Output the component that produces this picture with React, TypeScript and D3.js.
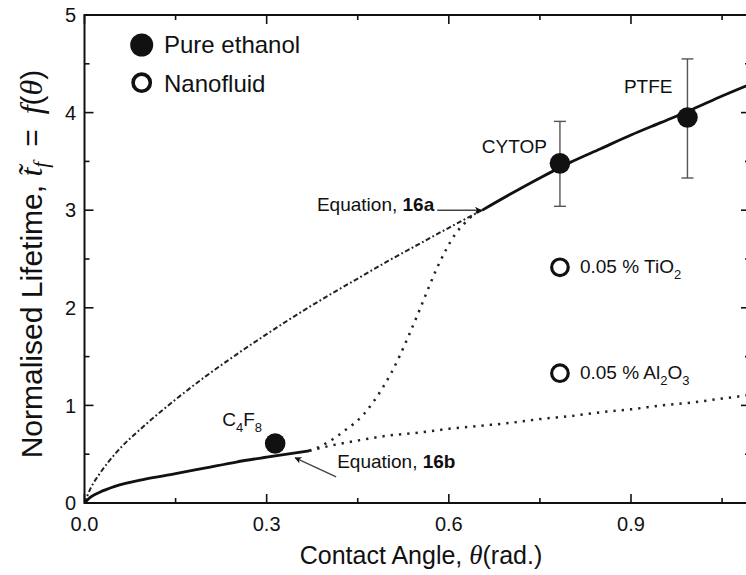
import React from "react";
import * as d3 from "d3";

// Canvas and plot frame
const W = 746;
const H = 575;
const thetaMax = 1.096;
const lifeMax = 5;

// Axis ticks
const xTicksMajor = [0, 0.3, 0.6, 0.9];
const xTicksMinor = [0.15, 0.45, 0.75, 1.05];
const yTicksMajor = [0, 1, 2, 3, 4, 5];
const yTicksMinor = [0.5, 1.5, 2.5, 3.5, 4.5];

// Equation 16b (solid, low contact angles)
const eq16bTheta = [0, 0.01, 0.025, 0.05, 0.1, 0.15, 0.2, 0.25, 0.3, 0.37];
const eq16bLife = [0, 0.06, 0.11, 0.17, 0.245, 0.3, 0.36, 0.42, 0.47, 0.535];

// Equation 16a (solid, high contact angles)
const eq16aTheta = [0.655, 0.7, 0.75, 0.8, 0.85, 0.9, 0.95, 1.0, 1.05, 1.1];
const eq16aLife = [3.0, 3.16, 3.33, 3.49, 3.63, 3.77, 3.9, 4.03, 4.17, 4.3];

// Extension of 16a down to the origin (dash-dot)
const upperTheta = [0, 0.01, 0.025, 0.05, 0.1, 0.15, 0.2, 0.25, 0.3, 0.35, 0.4, 0.45, 0.5, 0.55, 0.6, 0.655];
const upperLife = [0, 0.15, 0.3, 0.5, 0.8, 1.06, 1.3, 1.52, 1.73, 1.93, 2.12, 2.3, 2.48, 2.65, 2.82, 3.0];

// Transition between 16b and 16a (dotted)
const bridgeTheta = [0.37, 0.385, 0.4, 0.415, 0.43, 0.445, 0.46, 0.475, 0.49, 0.505, 0.52, 0.535, 0.55, 0.565, 0.58, 0.595, 0.61, 0.625, 0.64, 0.655];
const bridgeLife = [0.535, 0.57, 0.62, 0.68, 0.75, 0.82, 0.91, 1.03, 1.17, 1.33, 1.52, 1.73, 1.95, 2.18, 2.4, 2.59, 2.75, 2.86, 2.95, 3.0];

// Extension of 16b to high angles (dotted)
const lowerTheta = [0.37, 0.4, 0.45, 0.5, 0.55, 0.6, 0.65, 0.7, 0.75, 0.8, 0.85, 0.9, 0.95, 1.0, 1.05, 1.1];
const lowerLife = [0.535, 0.58, 0.64, 0.69, 0.72, 0.76, 0.79, 0.82, 0.86, 0.89, 0.93, 0.96, 1.0, 1.03, 1.07, 1.11];

// Pure ethanol measurements
const ethanolSurface = ["C4F8", "CYTOP", "PTFE"];
const ethanolTheta = [0.314, 0.783, 0.993];
const ethanolLife = [0.61, 3.48, 3.95];
const ethanolErrLow = [null, 3.04, 3.33];
const ethanolErrHigh = [null, 3.91, 4.55];

// Nanofluid measurements
const nanoTheta = [0.783, 0.783];
const nanoLife = [2.415, 1.33];

const SANS = "'Liberation Sans', Arial, Helvetica, sans-serif";
const SERIF = "'Liberation Serif', 'Times New Roman', serif";
const INK = "#111";

export default function App() {
  const x = d3.scaleLinear().domain([0, thetaMax]).range([84.5, 750]);
  const y = d3.scaleLinear().domain([0, lifeMax]).range([503, 15]);

  const line = d3
    .line<[number, number]>()
    .x((d) => x(d[0]))
    .y((d) => y(d[1]))
    .curve(d3.curveMonotoneX);

  const zip = (a: number[], b: number[]) => a.map((v, i) => [v, b[i]] as [number, number]);

  const left = x(0);
  const right = x(thetaMax);
  const top = y(lifeMax);
  const bottom = y(0);

  const eq16aStart = [eq16aTheta[0], eq16aLife[0]];
  const eq16bEnd = [eq16bTheta[eq16bTheta.length - 1], eq16bLife[eq16bLife.length - 1]];

  return (
    <svg
      width={W}
      height={H}
      viewBox={`0 0 ${W} ${H}`}
      style={{ position: "absolute", left: 0, top: 0, background: "#fff", overflow: "hidden" }}
      fontFamily={SANS}
    >
      <defs>
        <marker id="head" viewBox="0 0 10 10" refX="9" refY="5" markerWidth="9" markerHeight="7" orient="auto" markerUnits="userSpaceOnUse">
          <path d="M0,0 L10,5 L0,10 L3,5 Z" fill={INK} />
        </marker>
        <clipPath id="plot">
          <rect x={left} y={top} width={right - left} height={bottom - top} />
        </clipPath>
      </defs>
      <rect width={W} height={H} fill="#fff" />

      {/* curves */}
      <g clipPath="url(#plot)" fill="none">
        <path d={line(zip(upperTheta, upperLife)) || ""} stroke="#222" strokeWidth={2} strokeDasharray="5 2.5 1.8 2.5" />
        <path d={line(zip(bridgeTheta, bridgeLife)) || ""} stroke="#222" strokeWidth={2.5} strokeDasharray="2.3 6" />
        <path d={line(zip(lowerTheta, lowerLife)) || ""} stroke="#222" strokeWidth={2.5} strokeDasharray="2.3 6" />
        <path d={line(zip(eq16bTheta, eq16bLife)) || ""} stroke={INK} strokeWidth={2.8} />
        <path d={line(zip(eq16aTheta, eq16aLife)) || ""} stroke={INK} strokeWidth={2.8} />
      </g>

      {/* frame */}
      <g stroke={INK} strokeWidth={2} fill="none">
        <rect x={left} y={top} width={right - left} height={bottom - top} />
      </g>
      <g stroke={INK} strokeWidth={1.6}>
        {xTicksMajor.map((t) => (
          <g key={"xM" + t}>
            <line x1={x(t)} x2={x(t)} y1={bottom} y2={bottom - 9} />
            <line x1={x(t)} x2={x(t)} y1={top} y2={top + 9} />
          </g>
        ))}
        {xTicksMinor.map((t) => (
          <g key={"xm" + t}>
            <line x1={x(t)} x2={x(t)} y1={bottom} y2={bottom - 5} />
            <line x1={x(t)} x2={x(t)} y1={top} y2={top + 5} />
          </g>
        ))}
        {yTicksMajor.map((t) => (
          <g key={"yM" + t}>
            <line x1={left} x2={left + 9} y1={y(t)} y2={y(t)} />
            <line x1={right} x2={right - 9} y1={y(t)} y2={y(t)} />
          </g>
        ))}
        {yTicksMinor.map((t) => (
          <g key={"ym" + t}>
            <line x1={left} x2={left + 5} y1={y(t)} y2={y(t)} />
            <line x1={right} x2={right - 5} y1={y(t)} y2={y(t)} />
          </g>
        ))}
      </g>

      {/* tick labels */}
      <g fontSize={20} fill={INK}>
        {xTicksMajor.map((t) => (
          <text key={"xl" + t} x={x(t)} y={531} textAnchor="middle">
            {d3.format(".1f")(t)}
          </text>
        ))}
        {yTicksMajor.map((t) => (
          <text key={"yl" + t} x={76} y={y(t)} dy="0.36em" textAnchor="end">
            {t}
          </text>
        ))}
      </g>

      {/* axis titles */}
      <text x={421} y={564} textAnchor="middle" fontSize={25} fill={INK}>
        Contact Angle,{" "}
        <tspan fontFamily={SERIF} fontStyle="italic" fontSize={27}>θ</tspan>
        (rad.)
      </text>
      <text transform="translate(42,264) rotate(-90)" textAnchor="middle" fontSize={30} fill={INK}>
        Normalised Lifetime,{" "}
        <tspan fontFamily={SERIF} fontStyle="italic" fontSize={32}>{"t\u0303"}</tspan>
        <tspan fontFamily={SERIF} fontStyle="italic" fontSize={21} dy={6}>f</tspan>
        <tspan dy={-6}>{"\u2002=\u2002"}</tspan>
        <tspan fontFamily={SERIF} fontStyle="italic" fontSize={32}>f</tspan>
        (<tspan fontFamily={SERIF} fontStyle="italic" fontSize={32}>θ</tspan>)
      </text>

      {/* error bars */}
      <g stroke="#555" strokeWidth={1.4}>
        {ethanolTheta.map((t, i) => {
          const lo = ethanolErrLow[i];
          const hi = ethanolErrHigh[i];
          if (lo == null || hi == null) return null;
          const cx = x(t);
          return (
            <g key={"err" + i}>
              <line x1={cx} x2={cx} y1={y(lo)} y2={y(hi)} />
              <line x1={cx - 6} x2={cx + 6} y1={y(lo)} y2={y(lo)} />
              <line x1={cx - 6} x2={cx + 6} y1={y(hi)} y2={y(hi)} />
            </g>
          );
        })}
      </g>

      {/* markers */}
      {ethanolTheta.map((t, i) => (
        <circle key={"eth" + i} cx={x(t)} cy={y(ethanolLife[i])} r={10.3} fill={INK} />
      ))}
      {nanoTheta.map((t, i) => (
        <circle key={"nano" + i} cx={x(t)} cy={y(nanoLife[i])} r={8.3} fill="#fff" stroke={INK} strokeWidth={3.2} />
      ))}

      {/* point labels */}
      <g fontSize={19} fill={INK}>
        <text x={x(ethanolTheta[0]) - 53} y={y(ethanolLife[0]) - 17}>
          C<tspan fontSize={13} dy={6}>4</tspan>
          <tspan dy={-6}>F</tspan>
          <tspan fontSize={13} dy={6}>8</tspan>
        </text>
        <text x={x(ethanolTheta[1]) - 13} y={y(ethanolLife[1]) - 10} textAnchor="end">
          {ethanolSurface[1]}
        </text>
        <text x={x(ethanolTheta[2]) - 15} y={y(ethanolLife[2]) - 24} textAnchor="end">
          {ethanolSurface[2]}
        </text>
        <text x={x(nanoTheta[0]) + 20} y={y(nanoLife[0]) + 6}>
          0.05 % TiO<tspan fontSize={13} dy={6}>2</tspan>
        </text>
        <text x={x(nanoTheta[1]) + 20} y={y(nanoLife[1]) + 6}>
          0.05 % Al<tspan fontSize={13} dy={6}>2</tspan>
          <tspan dy={-6}>O</tspan>
          <tspan fontSize={13} dy={6}>3</tspan>
        </text>
      </g>

      {/* equation call-outs */}
      <g fontSize={19} fill={INK}>
        <text x={x(eq16aStart[0]) - 48} y={y(eq16aStart[1]) + 1} textAnchor="end">
          Equation, <tspan fontWeight="bold">16a</tspan>
        </text>
        <text x={x(eq16bEnd[0]) + 28} y={y(eq16bEnd[1]) + 17}>
          Equation, <tspan fontWeight="bold">16b</tspan>
        </text>
      </g>
      <g stroke="#444" strokeWidth={1.4} fill="none">
        <line
          x1={x(eq16aStart[0]) - 45}
          y1={y(eq16aStart[1])}
          x2={x(eq16aStart[0]) - 1}
          y2={y(eq16aStart[1])}
          markerEnd="url(#head)"
        />
        <line
          x1={x(eq16bEnd[0]) + 27}
          y1={y(eq16bEnd[1]) + 26}
          x2={x(eq16bEnd[0]) - 14}
          y2={y(eq16bEnd[1]) + 7}
          markerEnd="url(#head)"
        />
      </g>

      {/* legend */}
      <circle cx={141.7} cy={45} r={11.5} fill={INK} />
      <circle cx={141.7} cy={82.7} r={8.6} fill="#fff" stroke={INK} strokeWidth={3.6} />
      <g fontSize={24} fill={INK}>
        <text x={164} y={53.3}>Pure ethanol</text>
        <text x={164} y={91.5}>Nanofluid</text>
      </g>
    </svg>
  );
}
